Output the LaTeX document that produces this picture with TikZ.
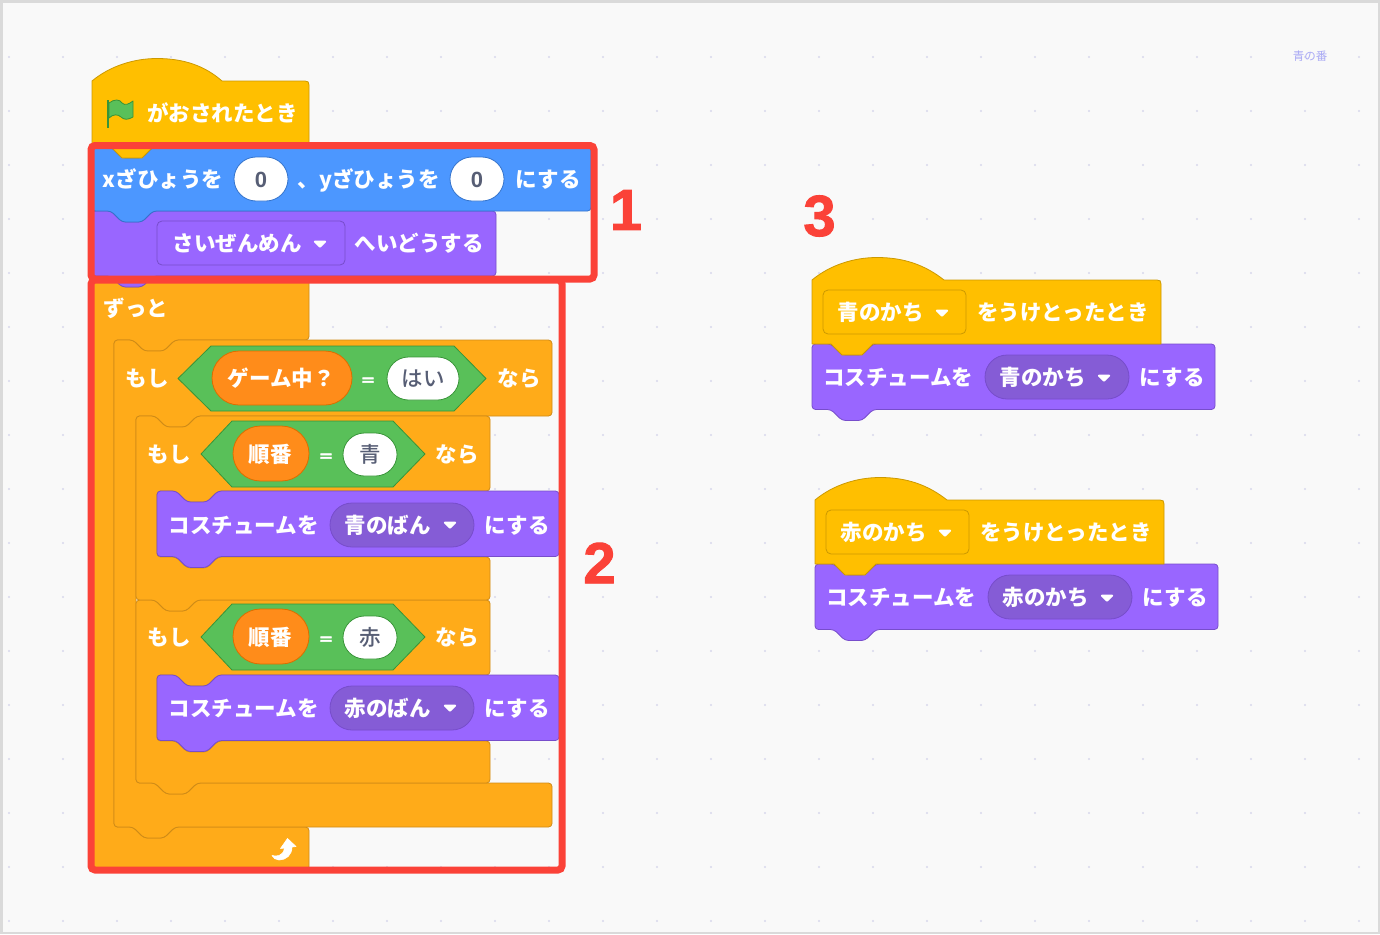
\documentclass[tikz,border=0pt]{standalone}
\usepackage{graphicx}
\usepackage{fontspec}
\newfontfamily\jpfont{Noto Sans CJK JP}
\newfontfamily\jpmed{Noto Sans CJK JP Medium}
\newfontfamily\numfont{Liberation Sans}
\newfontfamily\numheavy[BoldFeatures={FakeBold=1.6}]{Liberation Sans}
\newfontfamily\eqheavy[BoldFeatures={FakeBold=4}]{Liberation Sans}
\definecolor{bgc}{HTML}{F9F9F9}
\definecolor{edgec}{HTML}{DADADA}
\definecolor{dotc}{HTML}{D8D8EC}
\definecolor{looksf}{HTML}{9966FF}
\definecolor{lookss}{HTML}{774DCB}
\definecolor{looksd}{HTML}{855CD6}
\definecolor{ctrlf}{HTML}{FFAB19}
\definecolor{ctrls}{HTML}{CF8B17}
\definecolor{evf}{HTML}{FFBF00}
\definecolor{evs}{HTML}{CC9900}
\definecolor{motf}{HTML}{4C97FF}
\definecolor{mots}{HTML}{3373CC}
\definecolor{opf}{HTML}{59C059}
\definecolor{ops}{HTML}{389438}
\definecolor{varf}{HTML}{FF8C1A}
\definecolor{vars}{HTML}{DB6E00}
\definecolor{inktxt}{HTML}{575E75}
\definecolor{redc}{HTML}{FB4238}
\definecolor{notec}{HTML}{A9A9F5}
\tikzset{
  looks/.style={draw=lookss,fill=looksf,line width=.8pt,line join=round},
  ctrl/.style={draw=ctrls,fill=ctrlf,line width=.8pt,line join=round},
  event/.style={draw=evs,fill=evf,line width=.8pt,line join=round},
  motion/.style={draw=mots,fill=motf,line width=.8pt,line join=round},
  boolhex/.style={draw=ops,fill=opf,line width=.8pt,line join=round},
  varpill/.style={draw=vars,fill=varf,line width=.8pt},
  whitepill/.style={draw=ops,fill=white,line width=.8pt},
  motpill/.style={draw=mots,fill=white,line width=.8pt},
  looksmenu/.style={draw=lookss,fill=looksd,line width=.8pt},
  flatmenu/.style={draw=lookss,fill=looksf,line width=.8pt},
  evmenu/.style={draw=evs,fill=evf,line width=.8pt},
  lbl/.style={anchor=base west,inner sep=0pt,text=white,xshift=-.3pt,yshift=-.7pt,font=\jpfont\bfseries\fontsize{21.5}{24}\selectfont},
  inlbl/.style={anchor=base,inner sep=0pt,text=inktxt,yshift=-.7pt,font=\jpmed\fontsize{21.5}{24}\selectfont},
  eqlbl/.style={anchor=center,inner sep=0pt,text=white,font=\eqheavy\bfseries\fontsize{21}{22}\selectfont},
  numlbl/.style={anchor=center,inner sep=0pt,text=redc,font=\numheavy\bfseries\fontsize{58}{60}\selectfont},
  redbox/.style={draw=redc,line width=7pt,rounded corners=4pt},
}
% style, x, y, w, h
\newcommand\stk[5]{\draw[#1,rounded corners=3.5pt] (#2,#3) -- ++(19,0) -- ++(11,11) -- ++(20,0) -- ++(11,-11) -- ({#2+#4},#3) -- ({#2+#4},{#3+#5}) -- ({#2+61},{#3+#5}) -- ++(-11,11) -- ++(-20,0) -- ++(-11,-11) -- (#2,{#3+#5}) -- cycle;}
% x, y, w, y1, y2, y3, inner-left offset, bottom notch depth
\newcommand\cblk[8]{\draw[ctrl,rounded corners=3.5pt] (#1,#2) -- ++(19,0) -- ++(11,11) -- ++(20,0) -- ++(11,-11) -- ({#1+#3},#2) -- ({#1+#3},#4) -- ({#1+#7+61},#4) -- ++(-11,11) -- ++(-20,0) -- ++(-11,-11) -- ({#1+#7},#4) -- ({#1+#7},#5) -- ({#1+#7+19},#5) -- ++(11,11) -- ++(20,0) -- ++(11,-11) -- ({#1+#3},#5) -- ({#1+#3},#6) -- ({#1+61},#6) -- ++(-11,#8) -- ++(-20,0) -- ++(-11,-#8) -- (#1,#6) -- cycle;}
% style, x, top-of-body y, w, bottom y, hump end offset
\newcommand\hatb[6]{\draw[#1,rounded corners=0pt] (#2,#3) .. controls ({#2+18},{#3-15}) and ({#2+42},{#3-22.5}) .. ({#2+65},{#3-22.5}) .. controls ({#2+92},{#3-22.5}) and ({#2+113},{#3-15}) .. ({#2+#6},#3) -- ({#2+#4-4},#3) .. controls ({#2+#4-1},#3) and ({#2+#4},{#3+1}) .. ({#2+#4},{#3+4}) -- ({#2+#4},#5) -- ({#2+61},#5) -- ++(-11,11) -- ++(-20,0) -- ++(-11,-11) -- (#2,#5) -- cycle;}
% style, x0, y0, x1, y1 pill
\newcommand\pill[5]{\draw[#1,rounded corners={(#5-#3)/2*1pt}] (#2,#3) rectangle (#4,#5);}
% tipL, topL, topR, tipR, top, bottom
\newcommand\hexb[6]{\draw[boolhex] (#1,{(#5+#6)/2}) -- (#2,#5) -- (#3,#5) -- (#4,{(#5+#6)/2}) -- (#3,#6) -- (#2,#6) -- cycle;}
\newcommand\ddarrow[2]{\fill[white,draw=white,line width=1.8pt,line join=round] ({#1-5.2},{#2-2.4}) -- ({#1+5.2},{#2-2.4}) -- (#1,{#2+2.8}) -- cycle;}
\newcommand\eqsign{\scalebox{1}[0.62]{=}}
\begin{document}
\begin{tikzpicture}[x=1pt,y=-1pt]
\useasboundingbox (0,0) rectangle (1380,934);
\fill[edgec] (0,0) rectangle (1380,934);
\fill[bgc] (2.8,2.8) rectangle (1378,932);
\foreach \i in {0,...,25}{\foreach \j in {1,...,17}{\fill[dotc] ({9+54*\i},{3+54*\j}) circle (1.2pt);}}

% note top right
\node[anchor=center,inner sep=0pt,text=notec,font=\jpfont\fontsize{11.5}{13}\selectfont] (note) at (1310,56) {青の番};

% main stack
\cblk{92}{276}{217}{340}{827}{870}{22}{0}
\cblk{114}{340}{438}{416}{783}{827}{22}{11}
\cblk{136}{600}{354}{675}{741}{783}{21}{11}
\stk{looks}{157}{675}{402}{65.5}
\cblk{136}{416}{354}{491}{557}{600}{21}{11}
\stk{looks}{157}{491}{402}{65.5}
\stk{looks}{92}{211}{404}{65}
\stk{motion}{92}{147}{499}{64}
\hatb{event}{92}{81}{217}{147}{130}

% flag
\fill[ops] (106.8,100) rectangle (109.2,128);
\draw[fill=opf,draw=ops,line width=.8pt,line join=round] (109,103) .. controls (114,99) and (120,99) .. (122,103) .. controls (125,106) and (129,104) .. (133,101) -- (133,117) .. controls (128,120) and (124,120) .. (121,117) .. controls (118,114) and (113,114) .. (109,118) -- cycle;
\node[lbl] (hat1t) at (147.5,121) {がおされたとき};

% set xy
\node[lbl] (mx) at (103,187) {xざひょうを};
\pill{motpill}{234}{157}{288}{201}
\node[inlbl,font=\numfont\bfseries\fontsize{22}{24}\selectfont] (zerox) at (261,187) {0};
\node[lbl] (my) at (298,187) {、yざひょうを};
\pill{motpill}{450}{157}{504}{201}
\node[inlbl,font=\numfont\bfseries\fontsize{22}{24}\selectfont] (zeroy) at (477,187) {0};
\node[lbl] (mend) at (516,187) {にする};

% front
\draw[flatmenu,rounded corners=5pt] (157,221) rectangle (345,265);
\node[lbl] (front) at (173,251) {さいぜんめん};
\ddarrow{320}{244}
\node[lbl] (frontb) at (355,251) {へいどうする};

\node[lbl] (forever) at (104,316) {ずっと};

% if outer
\node[lbl] (if0) at (126,386) {もし};
\hexb{178}{211}{454}{486}{346}{411}
\pill{varpill}{212}{351}{352}{405}
\node[lbl] (game) at (228,386) {ゲーム中？};
\node[eqlbl] (eq0) at (368,381) {\eqsign};
\pill{whitepill}{387}{357}{459}{400}
\node[inlbl] (yes) at (423,386) {はい};
\node[lbl] (nara0) at (498,386) {なら};

% if blue
\node[lbl] (if1) at (148,462) {もし};
\hexb{201}{232}{393}{425}{421}{487}
\pill{varpill}{233}{426}{309}{481}
\node[lbl] (ord1) at (249,462) {順番};
\node[eqlbl] (eq1) at (326,457) {\eqsign};
\pill{whitepill}{343}{433}{397}{476}
\node[inlbl] (blue) at (370,462) {青};
\node[lbl] (nara1) at (436,462) {なら};

% look blue
\node[lbl] (lb1) at (169,533) {コスチュームを};
\pill{looksmenu}{330}{503}{474}{547}
\node[lbl] (lb2) at (345,533) {青のばん};
\ddarrow{450}{525}
\node[lbl] (lb3) at (485,533) {にする};

% if red
\node[lbl] (if2) at (148,645) {もし};
\hexb{201}{232}{393}{425}{604}{670}
\pill{varpill}{233}{609}{309}{664}
\node[lbl] (ord2) at (249,645) {順番};
\node[eqlbl] (eq2) at (326,640) {\eqsign};
\pill{whitepill}{343}{616}{397}{659}
\node[inlbl] (red) at (370,645) {赤};
\node[lbl] (nara2) at (436,645) {なら};

% look red
\node[lbl] (lr1) at (169,716) {コスチュームを};
\pill{looksmenu}{330}{686}{474}{730}
\node[lbl] (lr2) at (345,716) {赤のばん};
\ddarrow{450}{708}
\node[lbl] (lr3) at (485,716) {にする};

% loop arrow
\fill[white,draw=white,line width=.6pt,line join=round] (287.5,838.5) -- (296,846.5) -- (292,847) .. controls (292,855) and (286,860) .. (279,860) .. controls (276,860) and (273,858) .. (272,855.5) .. controls (276,856.5) and (283,857) .. (284.5,848) -- (280.5,848.5) -- cycle;

% red boxes
\draw[redbox] (91,280) rectangle (562,870);
\draw[redbox] (91,145.5) rectangle (594,279);
\node[numlbl] (n1) at (626,210) {1};
\node[numlbl] (n2) at (599.5,563) {2};
\node[numlbl] (n3) at (819.5,216) {3};

% blue handler
\stk{looks}{812}{344}{403}{65.5}
\hatb{event}{812}{280}{349}{344}{132}
\draw[evmenu,rounded corners=5pt] (823,290) rectangle (966,334);
\node[lbl] (h1a) at (838,320) {青のかち};
\ddarrow{942}{313}
\node[lbl] (h1b) at (977.5,320) {をうけとったとき};
\node[lbl] (h1c) at (823.5,385) {コスチュームを};
\pill{looksmenu}{985}{355}{1129}{399}
\node[lbl] (h1d) at (1000,385) {青のかち};
\ddarrow{1104}{378}
\node[lbl] (h1e) at (1140,385) {にする};

% red handler
\stk{looks}{815}{564}{403}{65.5}
\hatb{event}{815}{500}{349}{564}{132}
\draw[evmenu,rounded corners=5pt] (826,510) rectangle (969,554);
\node[lbl] (h2a) at (841,540) {赤のかち};
\ddarrow{945}{533}
\node[lbl] (h2b) at (980.5,540) {をうけとったとき};
\node[lbl] (h2c) at (826.5,605) {コスチュームを};
\pill{looksmenu}{988}{575}{1132}{619}
\node[lbl] (h2d) at (1003,605) {赤のかち};
\ddarrow{1107}{598}
\node[lbl] (h2e) at (1143,605) {にする};
\end{tikzpicture}
\end{document}
